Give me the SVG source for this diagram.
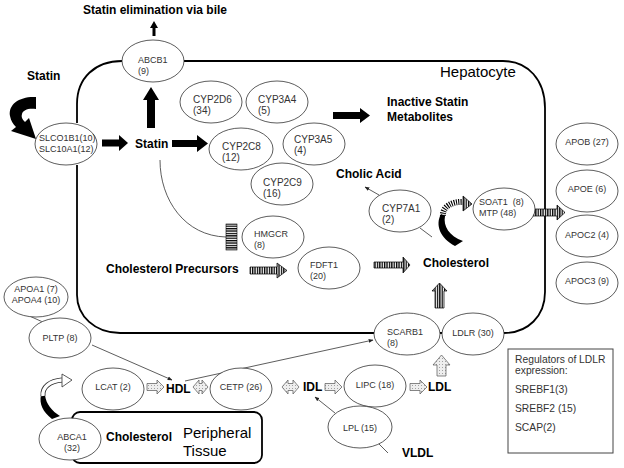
<svg xmlns="http://www.w3.org/2000/svg" width="624" height="468" viewBox="0 0 624 468">
<defs>
<style>
.el{fill:#fff;stroke:#333;stroke-width:0.8}
.t{font-family:"Liberation Sans",Arial,sans-serif;font-size:9px;fill:#333}
.tc{font-family:"Liberation Sans",Arial,sans-serif;font-size:10px;fill:#333}
.b{font-family:"Liberation Sans",Arial,sans-serif;font-size:12px;font-weight:bold;fill:#000}
.big{font-family:"Liberation Sans",Arial,sans-serif;font-size:15px;fill:#000}
.reg{font-family:"Liberation Sans",Arial,sans-serif;font-size:10.3px;fill:#333}
.ln{fill:none;stroke:#333;stroke-width:0.8}
.bd{fill:none;stroke:#000;stroke-width:1.8}
.blk{fill:#000}
.str{fill:url(#vs);stroke:#000;stroke-width:0.7}
.dot{fill:url(#dt);stroke:#555;stroke-width:0.7}
</style>
<pattern id="vs" patternUnits="userSpaceOnUse" width="2.4" height="10"><rect width="2.4" height="10" fill="#fff"/><rect width="1.3" height="10" fill="#000"/></pattern>
<pattern id="hs" patternUnits="userSpaceOnUse" width="10" height="2.4"><rect width="10" height="2.4" fill="#fff"/><rect width="10" height="1.3" fill="#000"/></pattern>
<pattern id="dt" patternUnits="userSpaceOnUse" width="3" height="3"><rect width="3" height="3" fill="#eee"/><circle cx="1.5" cy="1.5" r="0.5" fill="#888"/></pattern>
<marker id="ah" viewBox="0 0 10 10" refX="9" refY="5" markerWidth="6" markerHeight="6" orient="auto"><path d="M0,1 L10,5 L0,9 Z" fill="#222"/></marker>
</defs>
<rect width="624" height="468" fill="#fff"/>

<g id="hepatocyte">
<path class="bd" d="M77,123 L77,104 C77,78 95,61 122,61"/>
<path class="bd" d="M184,61 L503,61 C528,61 545,80 545,108 L545,292 C545,316 528,333 504,333"/>
<path class="bd" d="M374,333 L120,333 C95,333 77,316 77,295 L77,165"/>
<path class="bd" d="M440,333 L442,333"/>
<text class="big" x="440" y="77">Hepatocyte</text>
</g>

<g id="connectors">
<polygon class="blk" points="102,139.5 119,139.5 119,135 128,143 119,151 119,146.5 102,146.5"/>
<polygon class="blk" points="172,140 197,140 197,135 208,143.5 197,152 197,147 172,147"/>
<polygon class="blk" points="147,128 147,100 143,100 151,87 159,100 155,100 155,128"/>
<polygon class="blk" points="152.5,36 152.5,28 150,28 154,21 158,28 155.5,28 155.5,36"/>
<polygon class="blk" points="333,112 360,112 360,108 370,115.5 360,123 360,119 333,119"/>
<path class="blk" d="M36,97 C20,96 8,104 10,116 C11,121 13,124 16,127 L11,131 L36,139 L29,118 L25,122 C22,119 21,117 22,114 C23,110 28,108 36,109 Z"/>
<path class="ln" d="M160,160 C160,200 185,236 226,237"/>
<rect x="226" y="224" width="11" height="26" fill="url(#hs)" stroke="#000" stroke-width="0.6"/>
<polygon class="str" points="250,267 277,267 277,263 287,270.5 277,278 277,274 250,274"/>
<polygon class="str" points="374,262 403,262 403,257 410,265 403,273 403,268 374,268"/>
<polygon class="str" points="529,209 557,209 557,205 565,212.5 557,220 557,216 529,216"/>
<polygon class="str" points="435,308 435,291 432,291 439.5,283 447,291 444,291 444,308"/>
<path class="blk" d="M455,246 C440,238 435,225 441,214 L445,216 C443,226 449,236 463,241 Z"/>
<path d="M443,216 C442,207 452,201 464,202" fill="none" stroke="#000" stroke-width="6" stroke-dasharray="1.1 1.2"/>
<polygon class="str" points="463,196 472,204 463,211"/>
<line class="ln" x1="379" y1="195" x2="365" y2="187" marker-end="url(#ah)"/>
<line class="ln" x1="420" y1="228" x2="432" y2="237"/>
<line class="ln" x1="25" y1="314" x2="45" y2="323"/>
<line class="ln" x1="92" y1="345" x2="172" y2="380" marker-end="url(#ah)"/>
<line class="ln" x1="185" y1="381" x2="373" y2="340" marker-end="url(#ah)"/>
<line class="ln" x1="335" y1="413" x2="315" y2="397" marker-end="url(#ah)"/>
<line class="ln" x1="378" y1="443" x2="388" y2="453"/>
<polygon class="dot" points="147,383.5 157,383.5 157,380 164,387 157,394 157,390.5 147,390.5"/>
<polygon class="dot" points="325,383.5 335,383.5 335,380 342,387 335,394 335,390.5 325,390.5"/>
<polygon class="dot" points="410,383.5 420,383.5 420,380 427,387 420,394 420,390.5 410,390.5"/>
<polygon class="dot" points="437,376 437,365 433,365 441.5,355 450,365 446,365 446,376"/>
<polygon class="dot" points="193,387 199,380 199,383.5 202,383.5 202,380 208,387 202,394 202,390.5 199,390.5 199,394"/>
<polygon class="dot" points="282,387 288,380 288,383.5 293,383.5 293,380 299,387 293,394 293,390.5 288,390.5 288,394"/>
<path class="blk" d="M52,419 C43,412 39,404 41,395 L45,395 C46,404 52,411 60,416 Z"/>
<path d="M43,396 C42,387 50,381 62,380" fill="none" stroke="#333" stroke-width="5"/>
<path d="M43,396 C42,387 50,381 62,380" fill="none" stroke="#fff" stroke-width="3.4"/>
<polygon points="62,374 72,380 62,387" fill="#fff" stroke="#333" stroke-width="0.8"/>
</g>

<g id="labels">
<text class="b" x="155" y="14" text-anchor="middle">Statin elimination via bile</text>
<text class="b" x="27" y="80">Statin</text>
<text class="b" x="135" y="148">Statin</text>
<text class="b" x="387" y="106">Inactive Statin</text>
<text class="b" x="387" y="121">Metabolites</text>
<text class="b" x="106" y="273">Cholesterol Precursors</text>
<text class="b" x="423" y="267">Cholesterol</text>
<text class="b" x="336" y="178">Cholic Acid</text>
<text class="b" x="166" y="393">HDL</text>
<text class="b" x="303" y="391">IDL</text>
<text class="b" x="428" y="391">LDL</text>
<text class="b" x="402" y="457">VLDL</text>
</g>

<g id="n-ABCB1"><ellipse class="el" cx="153" cy="61" rx="31" ry="21"/><text class="t" x="138" y="63">ABCB1</text><text class="t" x="138" y="74">(9)</text></g>
<g id="n-SLCO1B1"><ellipse class="el" cx="66" cy="144" rx="31" ry="21"/><text class="t" x="39" y="141">SLCO1B1(10)</text><text class="t" x="39" y="152">SLC10A1(12)</text></g>
<g id="n-CYP2D6"><ellipse class="el" cx="211" cy="102" rx="31" ry="21"/><text class="tc" x="193" y="103">CYP2D6</text><text class="tc" x="193" y="114">(34)</text></g>
<g id="n-CYP3A4"><ellipse class="el" cx="277" cy="102" rx="31" ry="21"/><text class="tc" x="258" y="103">CYP3A4</text><text class="tc" x="258" y="114">(5)</text></g>
<g id="n-CYP2C8"><ellipse class="el" cx="241" cy="149" rx="32" ry="21"/><text class="tc" x="222" y="150">CYP2C8</text><text class="tc" x="222" y="161">(12)</text></g>
<g id="n-CYP3A5"><ellipse class="el" cx="314" cy="144" rx="31" ry="21"/><text class="tc" x="294" y="143">CYP3A5</text><text class="tc" x="294" y="154">(4)</text></g>
<g id="n-CYP2C9"><ellipse class="el" cx="282" cy="184" rx="31" ry="21"/><text class="tc" x="263" y="186">CYP2C9</text><text class="tc" x="263" y="197">(16)</text></g>
<g id="n-HMGCR"><ellipse class="el" cx="273" cy="237" rx="31" ry="21"/><text class="t" x="254" y="237">HMGCR</text><text class="t" x="254" y="248">(8)</text></g>
<g id="n-FDFT1"><ellipse class="el" cx="329" cy="268" rx="31" ry="21"/><text class="t" x="310" y="268">FDFT1</text><text class="t" x="310" y="279">(20)</text></g>
<g id="n-CYP7A1"><ellipse class="el" cx="400" cy="211" rx="31" ry="21"/><text class="tc" x="382" y="212">CYP7A1</text><text class="tc" x="382" y="223">(2)</text></g>
<g id="n-SOAT1"><ellipse class="el" cx="504" cy="209" rx="31" ry="21"/><text class="t" x="479" y="205" xml:space="preserve">SOAT1  (8)</text><text class="t" x="479" y="216">MTP (48)</text></g>
<g id="n-APOB"><ellipse class="el" cx="587" cy="144" rx="31" ry="21"/><text class="t" x="587" y="145" text-anchor="middle">APOB (27)</text></g>
<g id="n-APOE"><ellipse class="el" cx="587" cy="191" rx="31" ry="21"/><text class="t" x="587" y="192" text-anchor="middle">APOE (6)</text></g>
<g id="n-APOC2"><ellipse class="el" cx="587" cy="236" rx="31" ry="21"/><text class="t" x="587" y="238" text-anchor="middle">APOC2 (4)</text></g>
<g id="n-APOC3"><ellipse class="el" cx="587" cy="283" rx="31" ry="21"/><text class="t" x="587" y="284" text-anchor="middle">APOC3 (9)</text></g>
<g id="n-APOA"><ellipse class="el" cx="36" cy="297" rx="32" ry="20"/><text class="t" x="36" y="292" text-anchor="middle">APOA1 (7)</text><text class="t" x="36" y="303" text-anchor="middle">APOA4 (10)</text></g>
<g id="n-PLTP"><ellipse class="el" cx="60" cy="338" rx="31" ry="20"/><text class="t" x="60" y="341" text-anchor="middle">PLTP (8)</text></g>
<g id="n-SCARB1"><ellipse class="el" cx="407" cy="334" rx="33" ry="21"/><text class="t" x="387" y="335">SCARB1</text><text class="t" x="387" y="346">(8)</text></g>
<g id="n-LDLR"><ellipse class="el" cx="473" cy="334" rx="31" ry="21"/><text class="t" x="473" y="336" text-anchor="middle">LDLR (30)</text></g>
<g id="n-LIPC"><ellipse class="el" cx="375" cy="386" rx="31" ry="21"/><text class="t" x="375" y="388" text-anchor="middle">LIPC (18)</text></g>
<g id="n-LPL"><ellipse class="el" cx="360" cy="427" rx="32" ry="21"/><text class="t" x="360" y="431" text-anchor="middle">LPL (15)</text></g>
<g id="n-LCAT"><ellipse class="el" cx="113" cy="389" rx="31" ry="21"/><text class="t" x="113" y="390" text-anchor="middle">LCAT (2)</text></g>
<g id="n-CETP"><ellipse class="el" cx="241" cy="389" rx="31" ry="21"/><text class="t" x="241" y="390" text-anchor="middle">CETP (26)</text></g>
<g id="n-peripheral">
<rect x="72" y="412" width="190" height="51" rx="8" fill="#fff" stroke="#000" stroke-width="1.8"/>
<text class="b" x="106" y="441">Cholesterol</text>
<text class="big" x="183" y="438">Peripheral</text>
<text class="big" x="183" y="456">Tissue</text>
</g>
<g id="n-ABCA1"><ellipse class="el" cx="70" cy="439" rx="31" ry="21"/><text class="t" x="72" y="440" text-anchor="middle">ABCA1</text><text class="t" x="72" y="451" text-anchor="middle">(32)</text></g>
<g id="n-regulators">
<rect x="508" y="349" width="105" height="104" fill="#fff" stroke="#444" stroke-width="1"/>
<text class="reg" x="515" y="363">Regulators of LDLR</text>
<text class="reg" x="515" y="374">expression:</text>
<text class="reg" x="515" y="393">SREBF1(3)</text>
<text class="reg" x="515" y="412">SREBF2 (15)</text>
<text class="reg" x="515" y="431">SCAP(2)</text>
</g>
</svg>
